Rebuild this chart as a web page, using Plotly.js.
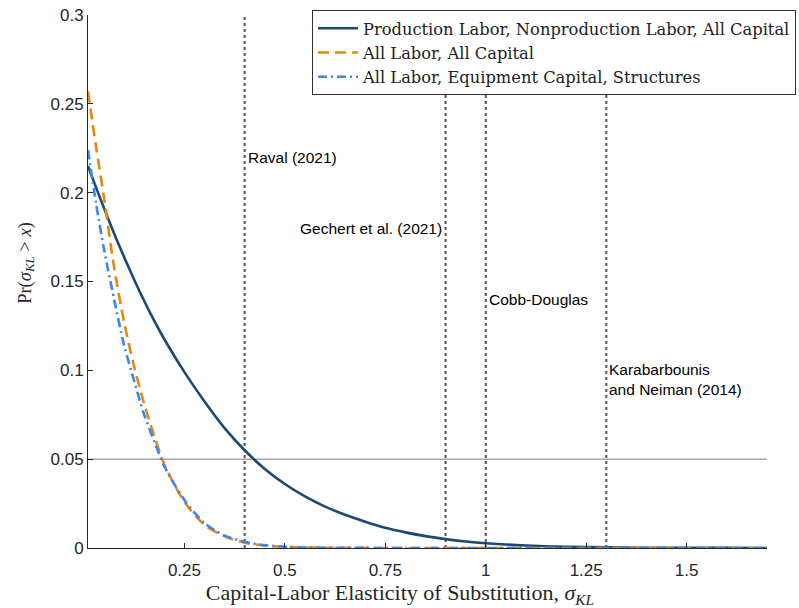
<!DOCTYPE html>
<html>
<head>
<meta charset="utf-8">
<script src="https://cdn.plot.ly/plotly-3.0.1.min.js"></script>
<style>html,body{margin:0;padding:0;background:#fff;}#chart{width:799px;height:608px;}</style>
</head>
<body>
<div id="chart"></div>
<script>
// Data
const sigma = [0.01, 0.03, 0.05, 0.075, 0.1, 0.125, 0.15, 0.175, 0.2, 0.25, 0.3, 0.35, 0.4, 0.45, 0.5, 0.55, 0.6, 0.65, 0.7, 0.75, 0.8, 0.85, 0.9, 0.95, 1.0, 1.1, 1.2, 1.3, 1.4, 1.5, 1.6, 1.7];
const prodNonprodAllCap = [0.215, 0.203, 0.1912, 0.177, 0.1637, 0.151, 0.139, 0.1278, 0.1175, 0.099, 0.0825, 0.0675, 0.055, 0.0445, 0.036, 0.029, 0.0233, 0.0187, 0.0148, 0.0114, 0.0088, 0.0067, 0.005, 0.0037, 0.0027, 0.0014, 0.0007, 0.00035, 0.00018, 0.0001, 0.00005, 0.00003];
const allLaborAllCap = [0.257, 0.226, 0.197, 0.158, 0.127, 0.102, 0.081, 0.063, 0.047, 0.026, 0.013, 0.0066, 0.003, 0.0013, 0.0006, 0.0003, 0.00015, 0.0001, 0.00005, 0.00003, 0.00002, 0.00001, 0, 0, 0, 0, 0, 0, 0, 0, 0, 0];
const allLaborEquipStruct = [0.224, 0.194, 0.168, 0.140, 0.114, 0.094, 0.075, 0.060, 0.046, 0.027, 0.014, 0.007, 0.0035, 0.0016, 0.0007, 0.0003, 0.00015, 0.0001, 0.00005, 0.00003, 0.00002, 0.00001, 0, 0, 0, 0, 0, 0, 0, 0, 0, 0];
const seriesNames = ['Production Labor, Nonproduction Labor, All Capital', 'All Labor, All Capital', 'All Labor, Equipment Capital, Structures'];
const refX = [0.4, 0.9, 1.0, 1.3];
const refLabels = ['Raval (2021)', 'Gechert et al. (2021)', 'Cobb-Douglas', 'Karabarbounis<br>and Neiman (2014)'];
const refLabelY = [0.22, 0.18, 0.14, 0.095];
const refLabelSide = ['left', 'right', 'left', 'left'];
const threshold = 0.05;
const xTicks = [0.25, 0.5, 0.75, 1, 1.25, 1.5];
const xTickText = ['0.25', '0.5', '0.75', '1', '1.25', '1.5'];
const yTicks = [0, 0.05, 0.1, 0.15, 0.2, 0.25, 0.3];
const yTickText = ['0', '0.05', '0.1', '0.15', '0.2', '0.25', '0.3'];

const serif = 'Liberation Serif, Times New Roman, serif';
const sans = 'Liberation Sans, Arial, Helvetica, sans-serif';
const pad = n => '\u200B' + '\u00A0'.repeat(n) + '\u200B';

const traces = [
  {x: sigma, y: prodNonprodAllCap, name: seriesNames[0], mode: 'lines', line: {color: '#1a4a73', width: 2.6, shape: 'spline', smoothing: 0.8}},
  {x: sigma, y: allLaborAllCap, name: seriesNames[1], mode: 'lines', line: {color: '#e8860f', width: 2.6, dash: '11px,6px', shape: 'spline', smoothing: 0.8}},
  {x: sigma, y: allLaborEquipStruct, name: seriesNames[2], mode: 'lines', line: {color: '#3a86f4', width: 2.6, dash: '9px,4px,2px,4px', shape: 'spline', smoothing: 0.8}}
];

const shapes = [{type: 'line', xref: 'paper', x0: 0, x1: 1, yref: 'y', y0: threshold, y1: threshold, line: {color: '#a6a6a6', width: 1.5}, layer: 'below'}];
refX.forEach(v => shapes.push({type: 'line', xref: 'x', x0: v, x1: v, yref: 'paper', y0: 0, y1: 1, line: {color: '#555555', width: 2, dash: 'dot'}, layer: 'below'}));

const annotations = refX.map((v, i) => ({
  x: v, y: refLabelY[i], xref: 'x', yref: 'y', text: refLabels[i], showarrow: false,
  xanchor: refLabelSide[i], yanchor: 'middle', align: 'left', xshift: refLabelSide[i] === 'left' ? 1 : -2,
  font: {family: sans, size: 15.5, color: '#000'}
}));

const layout = {
  width: 799, height: 608,
  margin: {l: 88, r: 32, t: 15, b: 60, autoexpand: false},
  paper_bgcolor: '#fff', plot_bgcolor: '#fff',
  showlegend: true,
  legend: {x: 1.0427, xanchor: 'right', y: 1.009, yanchor: 'top', bordercolor: '#333', borderwidth: 1, bgcolor: '#fff',
           font: {family: 'DejaVu Serif, serif', size: 16.3, color: '#222'}, tracegroupgap: 0, itemwidth: 40},
  xaxis: {range: [0.01, 1.7], tickvals: xTicks, ticktext: xTickText, ticks: 'inside', ticklen: 5, tickcolor: '#262626',
          showline: true, linecolor: '#262626', linewidth: 1, showgrid: false, zeroline: false, ticklabelstandoff: 7,
          tickfont: {family: sans, size: 17, color: '#262626'},
          title: {text: 'Capital-Labor Elasticity of Substitution, <i>σ</i><sub><i>KL</i></sub>' + pad(10), font: {family: serif, size: 22, color: '#262626'}, standoff: 2}},
  yaxis: {range: [0, 0.3], tickvals: yTicks, ticktext: yTickText, ticks: 'inside', ticklen: 5, tickcolor: '#262626',
          showline: true, linecolor: '#262626', linewidth: 1, showgrid: false, zeroline: false,
          tickfont: {family: sans, size: 17, color: '#262626'},
          title: {text: pad(8) + 'Pr(<i>σ</i><sub><i>KL</i></sub> > <i>x</i>)', font: {family: serif, size: 18.5, color: '#262626'}, standoff: 14}},
  shapes: shapes,
  annotations: annotations
};

Plotly.newPlot('chart', traces, layout, {displayModeBar: false, staticPlot: true});
</script>
</body>
</html>
